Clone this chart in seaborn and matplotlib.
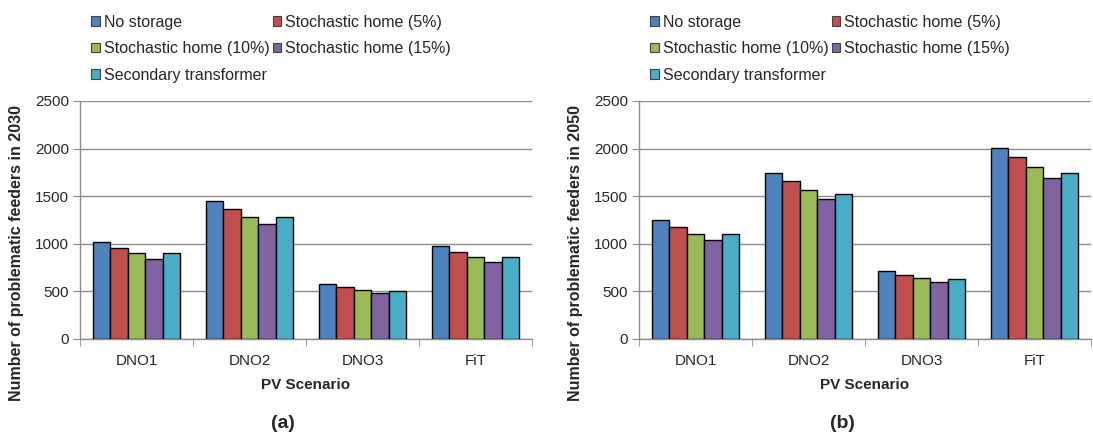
import matplotlib
matplotlib.use("Agg")
import matplotlib.pyplot as plt
from matplotlib.patches import Patch
import seaborn as sns
import pandas as pd

# valores
scenarios = ["DNO1", "DNO2", "DNO3", "FiT"]
series = ["No storage", "Stochastic home (5%)", "Stochastic home (10%)",
          "Stochastic home (15%)", "Secondary transformer"]
colors = ["#4F81BD", "#C0504D", "#9BBB59", "#8064A2", "#4BACC6"]

feeders_2030 = [
    [1017, 1446, 579, 975],
    [951, 1361, 544, 909],
    [898, 1281, 516, 863],
    [842, 1207, 488, 811],
    [898, 1281, 509, 863],
]
feeders_2050 = [
    [1249, 1744, 716, 2011],
    [1172, 1656, 677, 1916],
    [1105, 1561, 639, 1811],
    [1035, 1467, 600, 1688],
    [1105, 1526, 632, 1747],
]
ylabels = ["Number of problematic feeders in 2030",
           "Number of problematic feeders in 2050"]
panel_tags = ["(a)", "(b)"]


def to_long(values):
    rows = []
    for s, vals in zip(series, values):
        for sc, v in zip(scenarios, vals):
            rows.append({"scenario": sc, "series": s, "value": v})
    return pd.DataFrame(rows)


sns.set_style("white")
plt.rcParams["font.family"] = ["Liberation Sans", "DejaVu Sans"]

fig = plt.figure(figsize=(10.93, 4.37), dpi=100)
axes = [fig.add_axes([0.0732, 0.2243, 0.4135, 0.5446]),
        fig.add_axes([0.5846, 0.2243, 0.4135, 0.5446])]
tag_x = [0.259, 0.771]

for ax, data, ylab, tag, tx in zip(axes, [feeders_2030, feeders_2050], ylabels, panel_tags, tag_x):
    df = to_long(data)
    sns.barplot(data=df, x="scenario", y="value", hue="series", hue_order=series,
                order=scenarios, palette=colors, saturation=1, edgecolor="black",
                linewidth=1.0, width=0.77, ax=ax, legend=False, errorbar=None, zorder=3)
    ax.set_ylim(0, 2500)
    ax.set_yticks(range(0, 2501, 500))
    ax.set_xlim(-0.5, 3.5)
    ax.yaxis.grid(True, color="#8c8c8c", linewidth=1.0, zorder=0)
    ax.set_axisbelow(True)
    for side in ["top", "right"]:
        ax.spines[side].set_visible(False)
    for side in ["left", "bottom"]:
        ax.spines[side].set_color("#8c8c8c")
        ax.spines[side].set_linewidth(1.0)
    # marcas en los límites de categoría, estilo Excel
    ax.set_xticks([-0.5, 0.5, 1.5, 2.5, 3.5], minor=True)
    ax.tick_params(axis="x", which="major", length=0, pad=11, labelsize=11)
    ax.tick_params(axis="x", which="minor", length=5, color="#8c8c8c", direction="out")
    ax.tick_params(axis="y", length=5, color="#8c8c8c", direction="out", labelsize=11, pad=3)
    ax.tick_params(bottom=True, left=True, which="both")
    ax.set_xlabel("PV Scenario", fontsize=11, fontweight="bold", labelpad=7)
    ax.set_ylabel(ylab, fontsize=11.5, fontweight="bold")
    ax.yaxis.set_label_coords(-0.124, 0.36)

    order = [0, 2, 4, 1, 3]
    handles = [Patch(facecolor=colors[i], edgecolor="#404040", linewidth=0.8) for i in order]
    labels = [series[i] for i in order]
    ax.legend(handles, labels, ncol=2, loc="upper left", bbox_to_anchor=(0.01, 1.39),
              frameon=False, fontsize=11.5, handlelength=0.55, handleheight=0.55,
              handletextpad=0.25, columnspacing=0.2, labelspacing=0.72, borderaxespad=0)

    fig.text(tx, 0.032, tag, fontsize=14, fontweight="bold", ha="center", va="center")

fig.savefig("out.png", dpi=100)
